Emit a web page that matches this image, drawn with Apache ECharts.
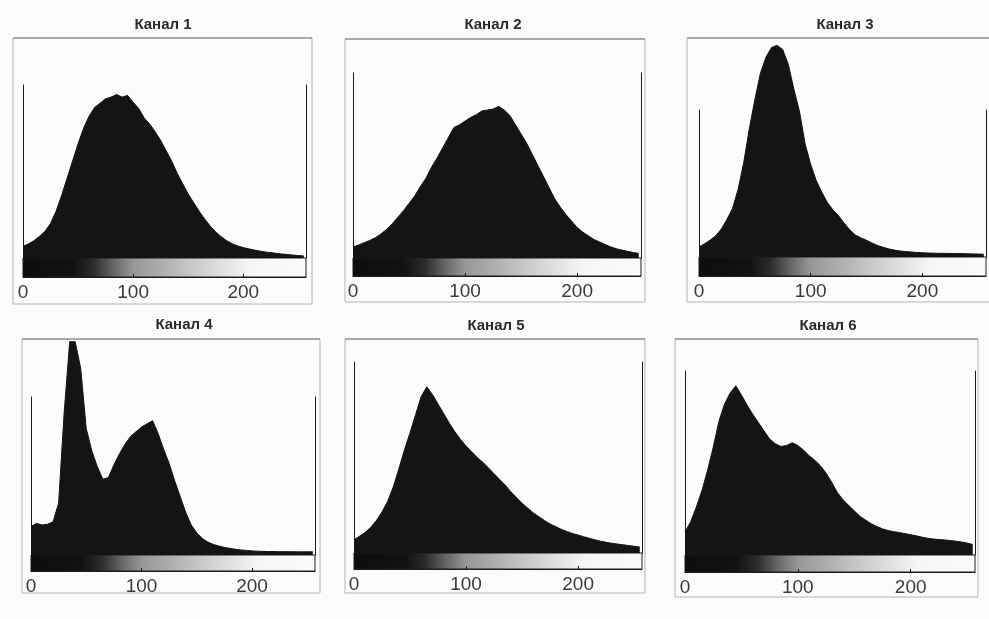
<!DOCTYPE html>
<html>
<head>
<meta charset="utf-8">
<title>Гистограммы каналов</title>
<script src="https://cdn.jsdelivr.net/npm/echarts@6/dist/echarts.min.js"></script>
<style>
html, body { margin: 0; padding: 0; background: #fcfcfc; }
#main { width: 989px; height: 619px; }
</style>
</head>
<body>
<div id="main"></div>
<script>
// уровни яркости (ось X), шаг 5
var levels = [0, 5, 10, 15, 20, 25, 30, 35, 40, 45, 50, 55, 60, 65, 70, 75, 80, 85, 90, 95,
    100, 105, 110, 115, 120, 125, 130, 135, 140, 145, 150, 155, 160, 165, 170, 175, 180, 185, 190, 195,
    200, 205, 210, 215, 220, 225, 230, 235, 240, 245, 250, 255];
var tickValues = [0, 100, 200];
var titles = ['Канал 1', 'Канал 2', 'Канал 3', 'Канал 4', 'Канал 5', 'Канал 6'];

// высота гистограммы, % от высоты боковых линий осей
var channel1 = [6.7, 8.2, 10, 12.6, 15.4, 20, 27, 36, 46, 56,
    66, 75, 82, 87, 89.5, 92, 93, 94.5, 93, 94,
    90, 86.5, 81, 77.5, 73, 68, 62, 56, 49, 43,
    37, 32, 27, 22.5, 18.5, 15, 12.3, 10, 8.2, 7,
    6, 5.3, 4.6, 4, 3.5, 3.1, 2.7, 2.3, 2, 1.7,
    1.4, 1.2];
var channel2 = [6, 7, 8.3, 9.5, 11, 13, 15.5, 18.5, 22, 25.5,
    29.5, 33.5, 38.5, 43, 49, 54, 59.5, 65, 70.5, 72,
    74, 76, 77.5, 79.5, 80, 80.5, 82, 80, 77, 72,
    67, 62, 56, 50, 44, 38, 32, 27.5, 23.5, 20,
    16.5, 14, 12, 10, 8.7, 7.3, 6, 5, 4.3, 3.6,
    3, 2.5];
var channel3 = [6.8, 9, 11.5, 14.5, 19, 25.5, 33, 46, 64, 87,
    107, 125, 136, 142.5, 144, 141, 131, 114, 99, 77,
    63, 52, 44, 37, 32, 28, 23, 18.5, 15, 13,
    11.4, 9.5, 7.8, 6.6, 5.5, 4.7, 4.1, 3.7, 3.4, 3.1,
    2.9, 2.7, 2.6, 2.5, 2.5, 2.4, 2.3, 2.3, 2.2, 2.1,
    2, 1.9];
var channel4 = [18, 20, 19, 19.5, 21, 33, 90, 135, 135, 118,
    80, 66, 56, 48, 49, 57, 64, 70, 75, 78,
    81, 83, 85, 77, 67, 58, 47, 37, 27, 19,
    14, 10.5, 8.2, 6.7, 5.7, 4.8, 4.2, 3.6, 3.2, 2.9,
    2.6, 2.4, 2.3, 2.2, 2.2, 2.1, 2.1, 2.1, 2, 2,
    2, 2];
var channel5 = [7, 8.8, 10.8, 13.5, 17, 21.5, 27, 34.5, 44, 54,
    63, 72.5, 82, 87, 83, 78, 73, 68, 63.5, 59.5,
    56, 53, 50, 47.5, 44.5, 41.5, 38.5, 35.5, 32, 29,
    26, 23.5, 21, 19, 17, 15.2, 13.8, 12.4, 11.2, 10.2,
    9.4, 8.5, 7.7, 6.9, 6.2, 5.6, 5.1, 4.7, 4.3, 3.9,
    3.5, 3.1];
var channel6 = [12.5, 18, 26, 35, 46, 58.5, 72.5, 82, 88, 92,
    87, 81.5, 76.5, 72, 67.5, 63, 60.5, 59, 59.5, 61,
    59.5, 57, 54, 51.5, 48.5, 44.5, 39.5, 34, 30, 27,
    24, 21, 19, 17, 15.5, 14.2, 13.3, 12.7, 12.2, 11.6,
    11, 10.4, 9.7, 9.1, 8.7, 8.4, 8.2, 7.9, 7.5, 7.1,
    6.5, 5.7];
var channels = [channel1, channel2, channel3, channel4, channel5, channel6];

// расположение панелей, px
var panels = [
    {left: 23, right: 306, top: 85, base: 258, bar: 277, frame: [13, 38, 312, 304], title: [163, 25]},
    {left: 353, right: 641, top: 73, base: 258, bar: 276, frame: [345, 39, 645, 302], title: [493, 25]},
    {left: 699, right: 986, top: 110, base: 257, bar: 276, frame: [687, 38, 995, 302], title: [845, 25]},
    {left: 31, right: 315, top: 397, base: 555, bar: 571, frame: [22, 339, 320, 593], title: [184, 325]},
    {left: 354, right: 642, top: 362, base: 553, bar: 569, frame: [345, 339, 645, 593], title: [496, 326]},
    {left: 685, right: 975, top: 371, base: 555, bar: 572, frame: [675, 339, 978, 597], title: [828, 326]}
];

var grayRamp = {
    type: 'linear', x: 0, y: 0, x2: 1, y2: 0,
    colorStops: [
        {offset: 0, color: '#0d0d0d'},
        {offset: 0.18, color: '#121212'},
        {offset: 0.25, color: '#2c2c2c'},
        {offset: 0.32, color: '#666666'},
        {offset: 0.39, color: '#979797'},
        {offset: 0.5, color: '#b0b0b0'},
        {offset: 0.6, color: '#c9c9c9'},
        {offset: 0.72, color: '#e4e4e4'},
        {offset: 0.8, color: '#f6f6f6'},
        {offset: 1, color: '#fbfbfb'}
    ]
};

var chart = echarts.init(document.getElementById('main'));
var grid = [], xAxis = [], yAxis = [], series = [], graphic = [];
var lineColor = '#1c1c1c';

panels.forEach(function (p, i) {
    var w = p.right - p.left;
    // гистограмма
    grid.push({left: p.left, top: p.top, width: w, height: p.base - p.top});
    // шкала серого
    grid.push({
        left: p.left, top: p.base, width: w, height: p.bar - p.base,
        show: true, backgroundColor: grayRamp, borderColor: lineColor, borderWidth: 1
    });

    xAxis.push({gridIndex: 2 * i, type: 'value', min: 0, max: 257, show: false});
    xAxis.push({
        gridIndex: 2 * i + 1, type: 'value', min: 0, max: 257, interval: 100,
        axisLine: {show: true, lineStyle: {color: lineColor, width: 1}},
        axisTick: {show: true, inside: true, length: 3, customValues: [100, 200],
            lineStyle: {color: lineColor}},
        axisLabel: {customValues: tickValues, margin: 6, fontSize: 19,
            fontFamily: 'Liberation Sans', color: '#3a3a3a'},
        splitLine: {show: false}
    });

    var side = {
        gridIndex: 2 * i, type: 'value', min: 0, max: 100,
        axisLine: {show: true, onZero: false, lineStyle: {color: lineColor, width: 1}},
        axisTick: {show: false}, axisLabel: {show: false}, splitLine: {show: false}
    };
    yAxis.push(Object.assign({position: 'left'}, side));
    yAxis.push(Object.assign({position: 'right'}, side));
    yAxis.push({gridIndex: 2 * i + 1, type: 'value', min: 0, max: 1, show: false});

    series.push({
        type: 'line',
        xAxisIndex: 2 * i,
        yAxisIndex: 3 * i,
        data: levels.map(function (v, k) { return [v, channels[i][k]]; }),
        showSymbol: false,
        clip: false,
        lineStyle: {color: '#141414', width: 1},
        areaStyle: {color: '#141414', opacity: 1},
        silent: true
    });

    var f = p.frame;
    graphic.push({
        type: 'rect', silent: true,
        shape: {x: f[0], y: f[1], width: f[2] - f[0], height: f[3] - f[1]},
        style: {fill: null, stroke: '#b4b4b4', lineWidth: 1}
    });
    graphic.push({
        type: 'line', silent: true,
        shape: {x1: f[0], y1: f[1], x2: f[2], y2: f[1]},
        style: {stroke: '#7a7a7a', lineWidth: 1}
    });
    graphic.push({
        type: 'text', silent: true,
        x: p.title[0], y: p.title[1],
        style: {text: titles[i], align: 'center', verticalAlign: 'middle',
            fontSize: 15, fontWeight: 'bold', fontFamily: 'Liberation Sans', fill: '#2a2a2a'}
    });
});

chart.setOption({
    backgroundColor: '#fcfcfc',
    animation: false,
    grid: grid,
    xAxis: xAxis,
    yAxis: yAxis,
    series: series,
    graphic: graphic
});
</script>
</body>
</html>
